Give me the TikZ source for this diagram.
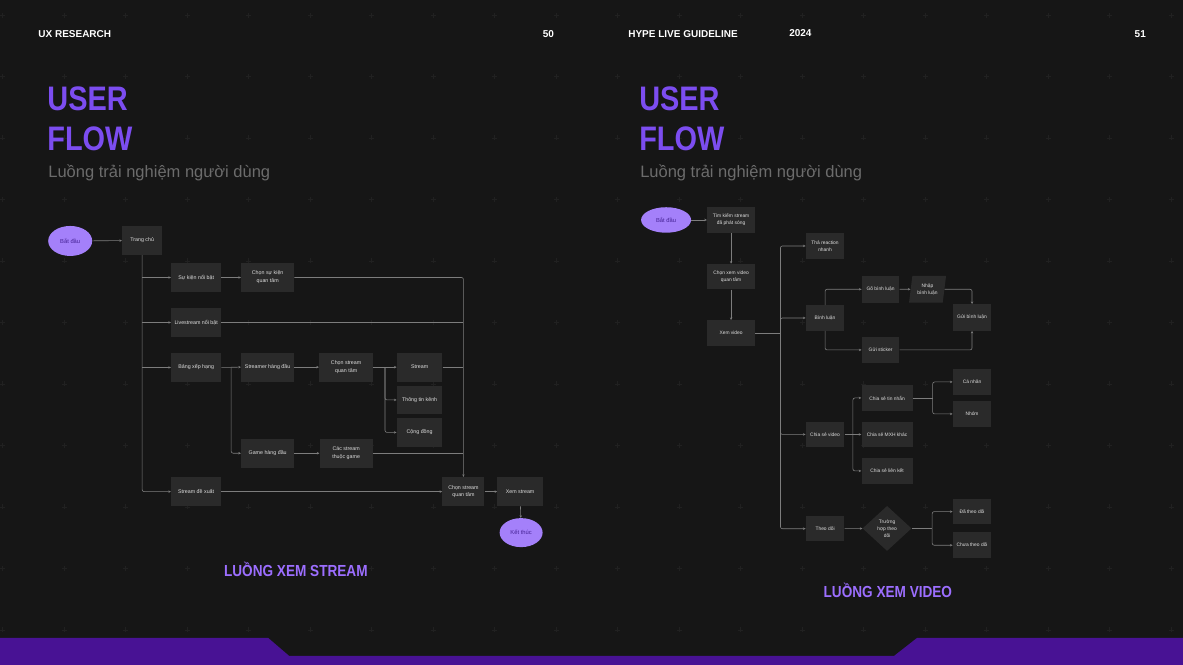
\documentclass[tikz,border=0pt]{standalone}
\usepackage{fontspec}
\setmainfont{Liberation Sans}
\newfontfamily\headfont[FakeStretch=0.85]{Liberation Sans}
\usepackage{tikz}
\usetikzlibrary{arrows.meta,calc,shapes.geometric}
\definecolor{bgc}{RGB}{22,22,22}
\definecolor{crossc}{RGB}{33,33,33}
\definecolor{boxc}{RGB}{42,42,42}
\definecolor{linkc}{RGB}{125,125,125}
\definecolor{textc}{RGB}{222,222,222}
\definecolor{titlec}{RGB}{124,77,240}
\definecolor{labelc}{RGB}{156,110,255}
\definecolor{subc}{RGB}{108,108,108}
\definecolor{ovalc}{RGB}{164,128,250}
\definecolor{ovaltext}{RGB}{70,35,150}
\definecolor{barc}{RGB}{72,18,148}
\tikzset{
    box/.style={fill=boxc, text=textc, inner sep=0pt, align=center, minimum width=50, minimum height=29, font=\fontsize{5.3}{7.7}\selectfont},
    rbox/.style={box, minimum width=38.5, minimum height=25.5, font=\fontsize{4.9}{7}\selectfont},
    startend/.style={ellipse, fill=ovalc, text=ovaltext, inner sep=0pt, font=\fontsize{5.8}{7}\selectfont},
    link/.style={draw=linkc, line width=0.6pt, rounded corners=2pt},
    header/.style={text=white, anchor=base west, inner sep=0pt, font=\bfseries\fontsize{10}{12}\selectfont},
}
\begin{document}
\begin{tikzpicture}[x=1pt, y=-1pt, >={Stealth[length=2.6pt,width=2.4pt]}]
                        \fill[bgc] (0,0) rectangle (1183,665);
                        \foreach \i in {0,...,19}
                            \foreach \j in {0,...,10}
                                \draw[crossc, line width=0.4pt] (2.5+61.5*\i-2.5,15+61.5*\j) -- +(5,0) (2.5+61.5*\i,15+61.5*\j-2.5) -- +(0,5);
                        \fill[barc] (0,638) -- (268,638) -- (289,656) -- (894,656) -- (917,638) -- (1183,638) -- (1183,665) -- (0,665) -- cycle;

                        \node[header] (lhead) at (38,37.3) {UX RESEARCH};
                        \node[header, anchor=base east] (lpage) at (554,37.3) {50};
                        \node[header] (rhead) at (628,37.3) {HYPE LIVE GUIDELINE};
                        \node[header] (ryear) at (789,36.5) {2024};
                        \node[header, anchor=base east] (rpage) at (1146,37.3) {51};
                        \node[text=titlec, anchor=base west, inner sep=0pt, font=\headfont\bfseries\fontsize{34}{36}\selectfont] (luser) at (47,110.7) {USER};
                        \node[text=titlec, anchor=base west, inner sep=0pt, font=\headfont\bfseries\fontsize{34}{36}\selectfont] (lflow) at (47,150.7) {FLOW};
                        \node[text=subc, anchor=base west, inner sep=0pt, font=\fontsize{16.5}{18}\selectfont] (lsub) at (48,178) {Luồng trải nghiệm người dùng};
                        \node[text=titlec, anchor=base west, inner sep=0pt, font=\headfont\bfseries\fontsize{34}{36}\selectfont] (ruser) at (639,110.7) {USER};
                        \node[text=titlec, anchor=base west, inner sep=0pt, font=\headfont\bfseries\fontsize{34}{36}\selectfont] (rflow) at (639,150.7) {FLOW};
                        \node[text=subc, anchor=base west, inner sep=0pt, font=\fontsize{16.5}{18}\selectfont] (rsub) at (640,178) {Luồng trải nghiệm người dùng};

                        \node[startend, minimum width=44, minimum height=30] (lstart) at (70,241) {Bắt đầu};
                        \node[box, minimum width=40] (home) at (142,240.5) {Trang chủ};
                        \node[box] (event) at (196,277.5) {Sự kiện nổi bật};
                        \node[box, minimum width=53] (pickevent) at (267.5,277.5) {Chọn sự kiện\\quan tâm};
                        \node[box] (live) at (196,322.5) {Livestream nổi bật};
                        \node[box] (rank) at (196,367.5) {Bảng xếp hạng};
                        \node[box, minimum width=53] (topstreamer) at (267.5,367.2) {Streamer hàng đầu};
                        \node[box, minimum width=54] (pickstream) at (346,367.2) {Chọn stream\\quan tâm};
                        \node[box, minimum width=45.6] (stream) at (419.5,367.2) {Stream};
                        \node[box, minimum width=45.6, minimum height=28.6] (channel) at (419.5,400) {Thông tin kênh};
                        \node[box, minimum width=45.6] (community) at (419.5,432.5) {Cộng đồng};
                        \node[box, minimum width=53] (topgame) at (267.5,453.3) {Game hàng đầu};
                        \node[box, minimum width=53] (gamestreams) at (346,453.3) {Các stream\\thuộc game};
                        \node[box] (suggest) at (196,491.7) {Stream đề xuất};
                        \node[box, minimum width=42] (pickstream2) at (463.3,491.7) {Chọn stream\\quan tâm};
                        \node[box, minimum width=45.4] (watch) at (520,491.7) {Xem stream};
                        \node[startend, minimum width=43, minimum height=29] (lend) at (521,532.7) {Kết thúc};
                        \node[text=labelc, inner sep=0pt, anchor=base, font=\headfont\bfseries\fontsize{16}{18}\selectfont] (lcaption) at (295.7,577) {LUỒNG XEM STREAM};

                        \draw[link, ->] (lstart) -- (home);
                        \draw[link, ->] (home.south) |- (suggest.west);
                        \draw[link, ->] (home.south |- event.west) -- (event.west);
                        \draw[link, ->] (home.south |- live.west) -- (live.west);
                        \draw[link, ->] (home.south |- rank.west) -- (rank.west);
                        \draw[link, ->] (event) -- (pickevent);
                        \draw[link, ->] (pickevent.east) -| (pickstream2.north);
                        \draw[link] (live.east) -- (pickstream2.north |- live.east);
                        \draw[link, ->] (rank.east) -- (topstreamer.west);
                        \draw[link, ->] ($(rank.east)!0.5!(topstreamer.west)$) |- (topgame.west);
                        \draw[link, ->] (topstreamer) -- (pickstream);
                        \draw[link, ->] (pickstream.east) -- (stream.west);
                        \draw[link, ->] ($(pickstream.east)!0.5!(stream.west)$) |- (channel.west);
                        \draw[link, ->] ($(pickstream.east)!0.5!(stream.west)$) |- (community.west);
                        \draw[link] (stream.east) -- (pickstream2.north |- stream.east);
                        \draw[link, ->] (topgame) -- (gamestreams);
                        \draw[link] (gamestreams.east) -- (pickstream2.north |- gamestreams.east);
                        \draw[link, ->] (suggest) -- (pickstream2);
                        \draw[link, ->] (pickstream2) -- (watch);
                        \draw[link, ->] (watch) -- (lend);

                        \node[startend, minimum width=50, minimum height=25.5] (rstart) at (666,220) {Bắt đầu};
                        \node[rbox, minimum width=48] (search) at (731,220) {Tìm kiếm stream\\đã phát sóng};
                        \node[rbox, minimum width=48] (pickvideo) at (731,276.7) {Chọn xem video\\quan tâm};
                        \node[rbox, minimum width=48] (watchvideo) at (731,333) {Xem video};
                        \node[rbox] (reaction) at (825,246) {Thả reaction\\nhanh};
                        \node[rbox] (comment) at (825,318) {Bình luận};
                        \node[rbox, minimum width=37.6, minimum height=26.7] (type) at (880.5,289.3) {Gõ bình luận};
                        \node[rbox, trapezium, trapezium left angle=79, trapezium right angle=101, trapezium stretches=true, minimum width=37, minimum height=26.7] (input) at (927.5,289.3) {Nhập\\bình luận};
                        \node[rbox, minimum height=26.4] (send) at (972,317.5) {Gửi bình luận};
                        \node[rbox, minimum width=37.6] (sticker) at (880.5,350) {Gửi sticker};
                        \node[rbox] (share) at (825,434.5) {Chia sẻ video};
                        \node[rbox, minimum width=51] (sharemsg) at (887,398) {Chia sẻ tin nhắn};
                        \node[rbox, minimum width=51] (sharesocial) at (887,434.5) {Chia sẻ MXH khác};
                        \node[rbox, minimum width=51] (sharelink) at (887,471) {Chia sẻ liên kết};
                        \node[rbox] (personal) at (972,382) {Cá nhân};
                        \node[rbox] (group) at (972,414) {Nhóm};
                        \node[rbox] (follow) at (825,528.8) {Theo dõi};
                        \node[rbox, diamond, minimum width=49, minimum height=45] (followcase) at (887,528.5) {Trường\\hợp theo\\dõi};
                        \node[rbox] (followed) at (972,511.7) {Đã theo dõi};
                        \node[rbox] (notfollowed) at (972,545.3) {Chưa theo dõi};
                        \node[text=labelc, inner sep=0pt, anchor=base, font=\headfont\bfseries\fontsize{16}{18}\selectfont] (rcaption) at (887.8,598) {LUỒNG XEM VIDEO};

                        \draw[link, ->] (rstart) -- (search);
                        \draw[link, ->] (search) -- (pickvideo);
                        \draw[link, ->] (pickvideo) -- (watchvideo);
                        \draw[link] (watchvideo.east) -- ($(watchvideo.east)!0.5!(comment.west |- watchvideo.east)$);
                        \draw[link, ->] ($(watchvideo.east)!0.5!(comment.west |- watchvideo.east)$) |- (reaction.west);
                        \draw[link, ->] ($(watchvideo.east)!0.5!(comment.west |- watchvideo.east)$) |- (comment.west);
                        \draw[link, ->] ($(watchvideo.east)!0.5!(comment.west |- watchvideo.east)$) |- (share.west);
                        \draw[link, ->] ($(watchvideo.east)!0.5!(comment.west |- watchvideo.east)$) |- (follow.west);
                        \draw[link, ->] (comment.north) |- (type.west);
                        \draw[link, ->] (comment.south) |- (sticker.west);
                        \draw[link, ->] (type) -- (input);
                        \draw[link, ->] (input.east) -| (send.north);
                        \draw[link, ->] (sticker.east) -| (send.south);
                        \draw[link, ->] (share) -- (sharesocial);
                        \draw[link, ->] ($(share.east)!0.5!(sharesocial.west)$) |- (sharemsg.west);
                        \draw[link, ->] ($(share.east)!0.5!(sharesocial.west)$) |- (sharelink.west);
                        \draw[link] (sharemsg.east) -- ($(sharemsg.east)!0.5!(personal.west |- sharemsg.east)$);
                        \draw[link, ->] ($(sharemsg.east)!0.5!(personal.west |- sharemsg.east)$) |- (personal.west);
                        \draw[link, ->] ($(sharemsg.east)!0.5!(personal.west |- sharemsg.east)$) |- (group.west);
                        \draw[link, ->] (follow) -- (followcase);
                        \draw[link] (followcase.east) -- ($(followcase.east)!0.5!(followed.west |- followcase.east)$);
                        \draw[link, ->] ($(followcase.east)!0.5!(followed.west |- followcase.east)$) |- (followed.west);
                        \draw[link, ->] ($(followcase.east)!0.5!(followed.west |- followcase.east)$) |- (notfollowed.west);
                    \end{tikzpicture}
\end{document}
